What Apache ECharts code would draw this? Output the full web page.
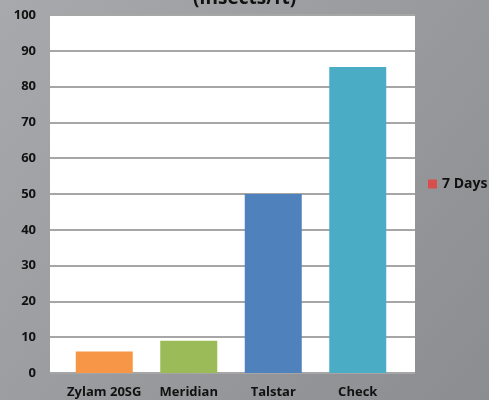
<!DOCTYPE html>
<html>
<head>
<meta charset="utf-8">
<script src="https://cdn.jsdelivr.net/npm/echarts@6/dist/echarts.min.js"></script>
<style>
  html, body { margin: 0; padding: 0; }
  #chart { width: 489px; height: 400px; }
</style>
</head>
<body>
<div id="chart"></div>
<script>
const categories = ['Zylam 20SG', 'Meridian', 'Talstar', 'Check']
const values = [6, 9, 50, 85.5]
const barColors = ['#f79646', '#9bbb59', '#4f81bd', '#4bacc6']
const seriesName = '7 Days'
const titleText = '(Insects/ft)'

const myChart = echarts.init(document.getElementById('chart'))
const font = '"Open Sans", sans-serif'

myChart.setOption({
  backgroundColor: new echarts.graphic.LinearGradient(0, 0, 1, 1, [
    { offset: 0, color: '#a8a9ac' },
    { offset: 1, color: '#8c8d91' }
  ]),
  title: {
    text: titleText,
    left: 'center',
    top: -16,
    textStyle: { color: '#111', fontSize: 19, fontWeight: 'bold', fontFamily: font }
  },
  legend: {
    data: [seriesName],
    left: 423,
    top: 172,
    itemWidth: 9,
    itemHeight: 9,
    icon: 'rect',
    itemGap: 4,
    textStyle: { color: '#111', fontSize: 14, fontWeight: 'bold', fontFamily: font }
  },
  grid: [
    // background plot area with gridlines
    { left: 50, right: 74, top: 15, bottom: 27, show: true, backgroundColor: '#fff', borderWidth: 0 },
    // bars
    { left: 62, right: 89, top: 15, bottom: 27 }
  ],
  xAxis: [
    { gridIndex: 0, type: 'category', data: categories, show: false },
    {
      gridIndex: 1,
      type: 'category',
      data: categories,
      axisLine: { show: false },
      axisTick: { show: false },
      axisLabel: { interval: 0, color: '#111', fontSize: 13, fontWeight: 'bold', fontFamily: font, margin: 13 }
    }
  ],
  yAxis: [
    {
      gridIndex: 0,
      type: 'value',
      min: 0,
      max: 100,
      interval: 10,
      axisLine: { show: false },
      axisTick: { show: false },
      splitLine: { lineStyle: { color: '#a6a6a6', width: 2 } },
      axisLabel: { color: '#111', fontSize: 13, fontWeight: 'bold', fontFamily: font, margin: 14 }
    },
    { gridIndex: 1, type: 'value', min: 0, max: 100, show: false, splitLine: { show: false } }
  ],
  series: [{
    name: seriesName,
    type: 'bar',
    xAxisIndex: 1,
    yAxisIndex: 1,
    barWidth: 57,
    itemStyle: { color: '#d64f4c' },
    data: values.map((v, i) => ({ value: v, itemStyle: { color: barColors[i] } }))
  }]
})
</script>
</body>
</html>
